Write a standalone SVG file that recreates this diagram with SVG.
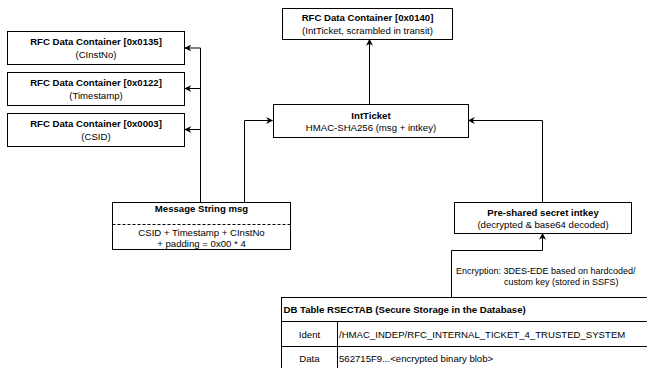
<svg xmlns="http://www.w3.org/2000/svg" width="647" height="368" viewBox="0 0 647 368">
  <style>
    .box { fill: #ffffff; stroke: #000000; stroke-width: 1; }
    .t { font-family: "Liberation Sans", Arial, sans-serif; font-size: 9.6px; fill: #000000; text-anchor: middle; }
    .b { font-weight: bold; }
    .lbl { font-family: "Liberation Sans", Arial, sans-serif; font-size: 9px; fill: #000000; }
    .cell { font-family: "Liberation Sans", Arial, sans-serif; font-size: 9.6px; fill: #000000; }
    .edge { fill: none; stroke: #000000; stroke-width: 1; }
    .grid { fill: none; stroke: #000000; stroke-width: 1; }
  </style>
  <defs>
    <marker id="arrow" viewBox="0 0 10 10" refX="9" refY="5" markerWidth="7" markerHeight="7" markerUnits="userSpaceOnUse" orient="auto">
      <path d="M0,0 L10,5 L0,10 L3,5 Z" fill="#000000"/>
    </marker>
  </defs>
  <rect width="647" height="368" fill="#ffffff"/>

  <!-- connectors -->
  <g id="connectors">
    <path class="edge" d="M200.5,202 V48 H185" marker-end="url(#arrow)"/>
    <path class="edge" d="M200.5,88.5 H185" marker-end="url(#arrow)"/>
    <path class="edge" d="M200.5,129.5 H185" marker-end="url(#arrow)"/>
    <path class="edge" d="M244.5,202 V120.5 H272.5" marker-end="url(#arrow)"/>
    <path class="edge" d="M542.5,202 V120.5 H468.5" marker-end="url(#arrow)"/>
    <path class="edge" d="M369.5,104 V39.5" marker-end="url(#arrow)"/>
    <path class="edge" d="M451.5,297 V250.5 H542.5 V233.5" marker-end="url(#arrow)"/>
    <text class="lbl" x="456" y="274">Encryption: 3DES-EDE based on hardcoded/</text>
    <text class="lbl" x="504" y="285">custom key (stored in SSFS)</text>
  </g>

  <!-- RFC containers on the left -->
  <g id="rfc-0135">
    <rect class="box" x="7.5" y="31.5" width="177" height="33"/>
    <text class="t b" x="96" y="45">RFC Data Container [0x0135]</text>
    <text class="t" x="96" y="57.5">(CInstNo)</text>
  </g>
  <g id="rfc-0122">
    <rect class="box" x="7.5" y="72.5" width="177" height="33"/>
    <text class="t b" x="96" y="86">RFC Data Container [0x0122]</text>
    <text class="t" x="96" y="98.5">(Timestamp)</text>
  </g>
  <g id="rfc-0003">
    <rect class="box" x="7.5" y="113.5" width="177" height="33"/>
    <text class="t b" x="96" y="127">RFC Data Container [0x0003]</text>
    <text class="t" x="96" y="139.5">(CSID)</text>
  </g>

  <!-- RFC container carrying the ticket -->
  <g id="rfc-0140">
    <rect class="box" x="282.5" y="8.5" width="170" height="31"/>
    <text class="t b" x="367.5" y="21">RFC Data Container [0x0140]</text>
    <text class="t" x="367.5" y="33.5">(IntTicket, scrambled in transit)</text>
  </g>

  <!-- HMAC ticket -->
  <g id="intticket">
    <rect class="box" x="273.5" y="104.5" width="195" height="33"/>
    <text class="t b" x="371" y="118.5">IntTicket</text>
    <text class="t" x="371" y="131">HMAC-SHA256 (msg + intkey)</text>
  </g>

  <!-- message string -->
  <g id="message">
    <rect class="box" x="112.5" y="202.5" width="178" height="47"/>
    <line x1="112.5" y1="224.5" x2="290.5" y2="224.5" stroke="#000000" stroke-width="1" stroke-dasharray="3,2"/>
    <text class="t b" x="201.5" y="212">Message String msg</text>
    <text class="t" x="201.5" y="236">CSID + Timestamp + CInstNo</text>
    <text class="t" x="201.5" y="247">+ padding = 0x00 * 4</text>
  </g>

  <!-- shared secret -->
  <g id="intkey">
    <rect class="box" x="454.5" y="202.5" width="177" height="31"/>
    <text class="t b" x="543" y="216">Pre-shared secret intkey</text>
    <text class="t" x="543" y="228">(decrypted &amp; base64 decoded)</text>
  </g>

  <!-- secure storage table -->
  <g id="rsectab">
    <rect class="grid" x="281.5" y="297.5" width="380" height="90" fill="#ffffff"/>
    <line class="grid" x1="281.5" y1="321.5" x2="661.5" y2="321.5"/>
    <line class="grid" x1="281.5" y1="346.5" x2="661.5" y2="346.5"/>
    <line class="grid" x1="337.5" y1="321.5" x2="337.5" y2="387.5"/>
    <text class="cell b" x="283.5" y="313">DB Table RSECTAB (Secure Storage in the Database)</text>
    <text class="cell" x="309.5" y="337.5" text-anchor="middle">Ident</text>
    <text class="cell" x="339" y="337.5">/HMAC_INDEP/RFC_INTERNAL_TICKET_4_TRUSTED_SYSTEM</text>
    <text class="cell" x="309.5" y="361.5" text-anchor="middle">Data</text>
    <text class="cell" x="339" y="361.5">562715F9...&lt;encrypted binary blob&gt;</text>
  </g>
</svg>
